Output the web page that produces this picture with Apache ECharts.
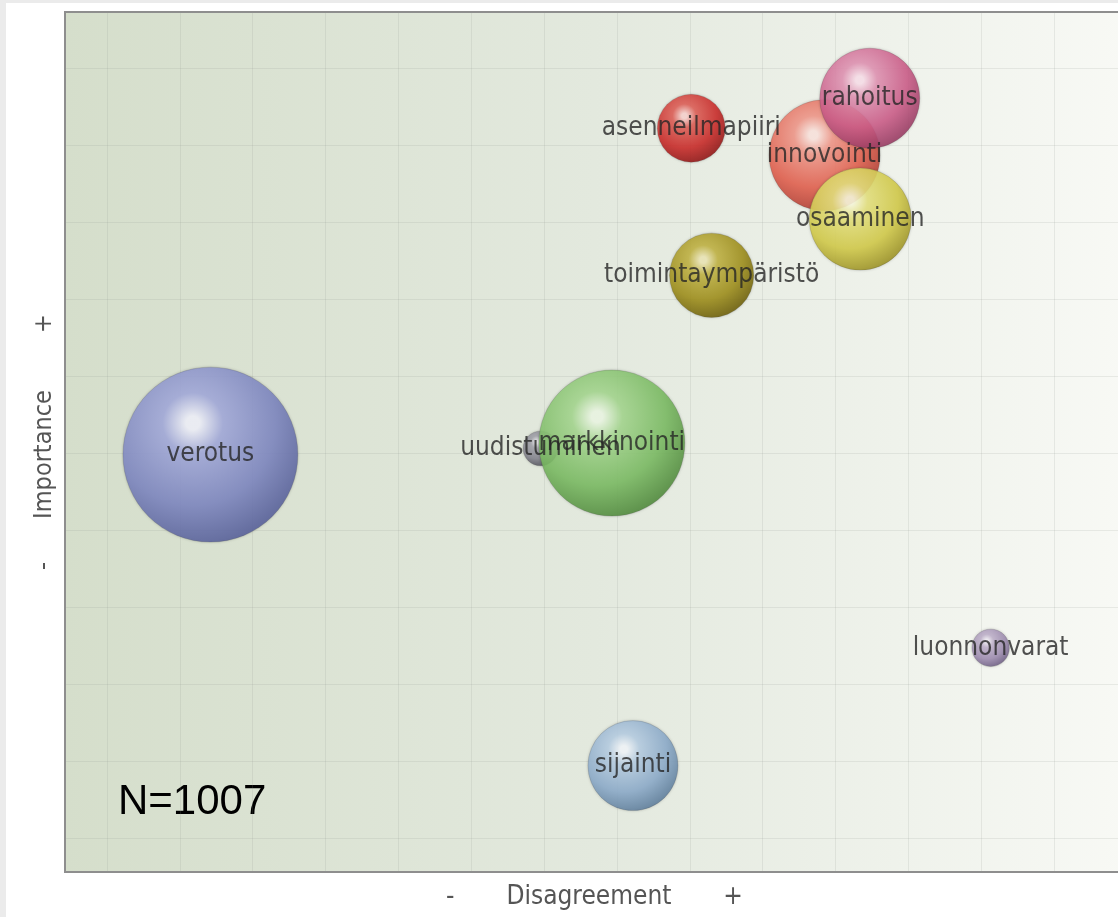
<!DOCTYPE html>
<html>
<head>
<meta charset="utf-8">
<script src="https://cdn.jsdelivr.net/npm/echarts@6/dist/echarts.min.js"></script>
<style>
  html, body { margin: 0; padding: 0; background: #ebebeb; width: 1118px; height: 917px; overflow: hidden; }
  #main { position: absolute; left: 6px; top: 3px; width: 1112px; height: 914px; background: #ffffff; }
</style>
</head>
<body>
<div id="main"></div>
<script>
// ---- data ----
const names = ['verotus', 'uudistuminen', 'markkinointi', 'sijainti', 'luonnonvarat',
               'toimintaympäristö', 'asenneilmapiiri', 'innovointi', 'rahoitus', 'osaaminen'];
const disagreement = [2.42, 6.95, 7.93, 8.22, 13.13, 9.30, 9.02, 10.85, 11.47, 11.34];
const importance   = [5.98, 6.06, 6.13, 1.94, 3.47, 8.31, 10.22, 9.87, 10.61, 9.04];
const weight       = [306, 12, 213, 81, 14, 71, 46, 123, 100, 104];
const xTicks = [1, 2, 3, 4, 5, 6, 7, 8, 9, 10, 11, 12, 13, 14];
const yTicks = [1, 2, 3, 4, 5, 6, 7, 8, 9, 10, 11];
const sampleNote = 'N=1007';

// ---- styles: [spot, light, base, rim] ----
const palette = [
  ['#f2f3fc', '#a4abdc', '#7f88c2', '#59629c'],
  ['#e6e6ea', '#a4a4ac', '#84848e', '#50505a'],
  ['#eef9e6', '#a6d890', '#7cbd64', '#528c3e'],
  ['#f4f8fc', '#b8cfe4', '#8eadcc', '#60809e'],
  ['#f2eef6', '#c0b2cc', '#a08eb2', '#6e5e84'],
  ['#eee8b8', '#c2b444', '#a0901c', '#6e600a'],
  ['#fad4d0', '#e06058', '#cc2c2a', '#921616'],
  ['#fde6e0', '#f2988a', '#e4614f', '#b03c32'],
  ['#fbe2ec', '#e294b4', '#ce5e8a', '#9a3c64'],
  ['#fcfce0', '#e6e27e', '#d4cc4a', '#9e9426']
];
function sphere(p) {
  return {
    type: 'radial', x: 0.4, y: 0.32, r: 0.78,
    colorStops: [
      { offset: 0, color: p[0] },
      { offset: 0.05, color: p[0] },
      { offset: 0.22, color: p[1] },
      { offset: 0.6, color: p[2] },
      { offset: 0.9, color: p[3] },
      { offset: 1, color: p[3] }
    ]
  };
}
const FONT = '"DejaVu Sans Condensed", "DejaVu Sans", sans-serif';

const bubbleData = names.map((n, i) => ({
  name: n,
  value: [disagreement[i], importance[i], weight[i]],
  itemStyle: { color: sphere(palette[i]) }
}));
const labelData = names.map((n, i) => ({ name: n, value: [disagreement[i], importance[i], weight[i]] }));

const chart = echarts.init(document.getElementById('main'), null, { renderer: 'canvas' });
chart.setOption({
  animation: false,
  grid: {
    left: 59, top: 9, right: -6, bottom: 45,
    outerBoundsMode: 'none',
    containLabel: false,
    show: true,
    borderColor: '#8e8e8e', borderWidth: 2,
    backgroundColor: {
      type: 'linear', x: 0, y: 0, x2: 1, y2: 0,
      colorStops: [
        { offset: 0, color: '#d5decb' },
        { offset: 0.5, color: '#e3e9de' },
        { offset: 1, color: '#f8f9f5' }
      ]
    }
  },
  xAxis: {
    type: 'value', min: 0.424, max: 14.96,
    name: '-       Disagreement       +',
    nameLocation: 'middle', nameGap: 12,
    nameTextStyle: { fontFamily: FONT, fontSize: 26, color: '#555555' },
    axisLine: { show: false },
    axisTick: { show: false, customValues: xTicks },
    axisLabel: { show: false, customValues: xTicks },
    splitLine: { show: true, lineStyle: { color: 'rgba(140,150,140,0.16)', width: 1 } }
  },
  yAxis: {
    type: 'value', min: 0.558, max: 11.73,
    name: '-      Importance        +',
    nameLocation: 'middle', nameGap: 8, nameRotate: 90,
    nameTextStyle: { fontFamily: FONT, fontSize: 25, color: '#555555' },
    axisLine: { show: false },
    axisTick: { show: false, customValues: yTicks },
    axisLabel: { show: false, customValues: yTicks },
    splitLine: { show: true, lineStyle: { color: 'rgba(140,150,140,0.16)', width: 1 } }
  },
  graphic: [{
    type: 'text', left: 112, top: 778, silent: true,
    style: { text: sampleNote, font: '42px "Liberation Sans", Arial, sans-serif', fill: '#000000' }
  }],
  series: [
    {
      type: 'scatter', z: 2,
      data: bubbleData,
      symbolSize: v => 10 * Math.sqrt(v[2]),
      itemStyle: { opacity: 0.88, borderColor: 'rgba(60,60,60,0.2)', borderWidth: 1,
                   shadowBlur: 3, shadowColor: 'rgba(0,0,0,0.22)' },
      emphasis: { disabled: true },
      silent: true
    },
    {
      type: 'scatter', z: 10,
      data: labelData,
      symbolSize: 1,
      itemStyle: { color: 'rgba(0,0,0,0)' },
      label: {
        show: true, position: 'inside', formatter: '{b}',
        fontFamily: FONT, fontSize: 26, color: '#262626'
      },
      emphasis: { disabled: true },
      silent: true
    }
  ]
});
</script>
</body>
</html>
